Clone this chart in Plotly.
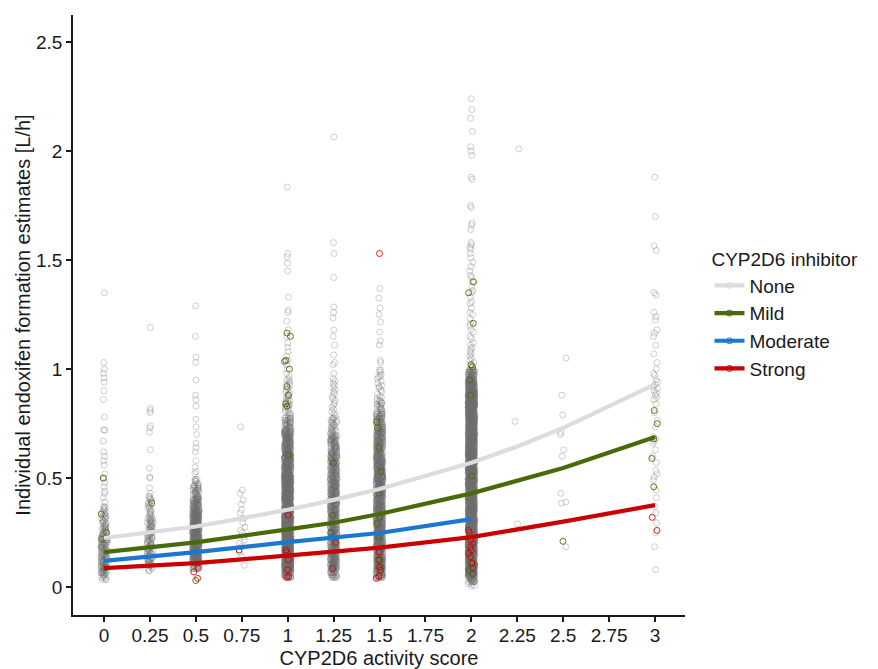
import numpy as np
import plotly.graph_objects as go

# ---------------- data ----------------
x_ticks = [0, 0.25, 0.5, 0.75, 1, 1.25, 1.5, 1.75, 2, 2.25, 2.5, 2.75, 3]
x_tick_labels = ["0", "0.25", "0.5", "0.75", "1", "1.25", "1.5", "1.75", "2", "2.25", "2.5", "2.75", "3"]
y_ticks = [0, 0.5, 1, 1.5, 2, 2.5]
y_tick_labels = ["0", "0.5", "1", "1.5", "2", "2.5"]

# fitted curves per inhibitor group
none_x = [0, 0.25, 0.5, 0.75, 1, 1.25, 1.5, 2, 2.25, 2.5, 3]
none_fit = [0.225, 0.25, 0.278, 0.315, 0.355, 0.40, 0.45, 0.57, 0.645, 0.73, 0.93]
mild_x = [0, 0.25, 0.5, 1, 1.25, 1.5, 2, 2.5, 3]
mild_fit = [0.16, 0.182, 0.205, 0.265, 0.295, 0.335, 0.43, 0.546, 0.688]
moderate_x = [0, 0.5, 1, 1.25, 1.5, 2]
moderate_fit = [0.12, 0.16, 0.206, 0.225, 0.248, 0.312]
strong_x = [0, 0.5, 0.75, 1, 1.25, 1.5, 2, 2.5, 3]
strong_fit = [0.087, 0.11, 0.127, 0.147, 0.163, 0.181, 0.229, 0.30, 0.376]

# individual estimates, no inhibitor: sparse (explicit) values per activity score
none_sparse_0 = [1.35, 1.03, 1.0, 0.98, 0.96, 0.94, 0.90, 0.86, 0.78, 0.72, 0.72, 0.67, 0.62, 0.60,
                 0.58, 0.56, 0.52, 0.50, 0.48, 0.46, 0.44, 0.43, 0.41, 0.39, 0.37]
none_sparse_025 = [1.19, 0.82, 0.81, 0.80, 0.74, 0.73, 0.71, 0.63, 0.545, 0.505, 0.50, 0.455, 0.43]
none_sparse_05 = [1.29, 1.15, 1.055, 1.03, 0.95, 0.88, 0.86, 0.83, 0.77, 0.735, 0.70, 0.66, 0.64,
                  0.62, 0.58, 0.55, 0.53, 0.52, 0.49]
none_sparse_075 = [0.735, 0.445, 0.43, 0.40, 0.38, 0.355, 0.34, 0.315, 0.295, 0.275, 0.26, 0.25,
                   0.23, 0.215, 0.20, 0.185, 0.16, 0.14, 0.10]
none_sparse_1 = [1.835, 1.53, 1.515, 1.485, 1.45, 1.33, 1.27, 1.26, 1.22, 1.18, 1.15, 1.12, 1.10,
                 1.08, 1.06, 1.04, 1.02, 1.0, 0.98, 0.965, 0.95, 0.93, 0.91, 0.89, 0.87, 0.85, 0.83]
none_sparse_125 = [2.065, 1.58, 1.53, 1.42, 1.285, 1.26, 1.235, 1.18, 1.15, 1.11, 1.065, 1.03,
                   1.02, 0.98]
none_sparse_15 = [1.37, 1.325, 1.28, 1.25, 1.215, 1.17, 1.13, 1.11, 1.04, 1.03, 0.995, 0.965,
                  0.92, 0.87, 0.84]
none_sparse_2 = [2.24, 2.19, 2.15, 2.09, 2.02, 2.0, 1.98, 1.88, 1.87, 1.75, 1.74, 1.67, 1.66, 1.64,
                 1.58, 1.57, 1.56, 1.55, 1.53, 1.51, 1.49, 1.47, 1.45, 1.43, 1.42, 1.40, 1.38, 1.36,
                 1.35, 1.33, 1.31, 1.30, 1.28, 1.26, 1.25, 1.23, 1.21, 1.20, 1.18, 1.17, 1.15, 1.14,
                 1.12, 1.11, 1.10, 1.09, 1.08, 1.07, 1.06, 1.05, 1.04, 1.03, 1.02, 1.01]
none_sparse_225 = [2.01, 0.76, 0.29]
none_sparse_25 = [1.05, 0.88, 0.79, 0.71, 0.70, 0.63, 0.60, 0.43, 0.39, 0.385, 0.185]
none_sparse_3 = [1.88, 1.70, 1.565, 1.545, 1.35, 1.34, 1.26, 1.24, 1.225, 1.18, 1.165, 1.15, 1.11,
                 1.07, 1.03, 1.0, 0.98, 0.97, 0.95, 0.94, 0.93, 0.92, 0.91, 0.90, 0.89, 0.88, 0.87,
                 0.86, 0.84, 0.80, 0.765, 0.735, 0.69, 0.68, 0.67, 0.66, 0.63, 0.60, 0.57, 0.535,
                 0.52, 0.505, 0.49, 0.445, 0.41, 0.37, 0.34, 0.295, 0.25, 0.185, 0.08]

# dense parts: number of estimates per 0.01-wide bin (0.00-0.01, 0.01-0.02, ... 0.99-1.00)
dense_bin_centers = np.round(np.arange(0.005, 1.0, 0.01), 4)
none_counts_0 = [0] * 3 + [3] * 3 + [6] * 17 + [4] * 5 + [3] * 5 + [2] * 4 + [0] * 63
none_counts_025 = [0] * 7 + [2] * 3 + [4] * 22 + [2] * 10 + [0] * 58
none_counts_05 = [0] * 8 + [6] * 3 + [16] * 24 + [10] * 6 + [5] * 6 + [2] * 3 + [0] * 50
none_counts_1 = [0] * 4 + [10] * 3 + [22] * 45 + [18] * 10 + [13] * 10 + [6] * 6 + [2] * 8 + [1] * 10 + [0] * 4
none_counts_125 = [0] * 4 + [6] * 4 + [11] * 42 + [9] * 12 + [7] * 8 + [3] * 8 + [1] * 18 + [0] * 4
none_counts_15 = [0] * 4 + [10] * 4 + [14] * 52 + [11] * 12 + [7] * 8 + [3] * 6 + [1] * 14
none_counts_2 = [2] * 2 + [8] * 3 + [22] * 85 + [17] * 5 + [10] * 5

# mild inhibitor estimates
mild_pts = {
    0: [0.50, 0.335, 0.25, 0.22, 0.09],
    0.25: [0.385],
    0.5: [0.03],
    1: [1.165, 1.15, 1.04, 1.035, 1.0, 0.92, 0.88, 0.84, 0.83, 0.605],
    1.25: [0.57, 0.33, 0.25],
    1.5: [0.757, 0.73, 0.64, 0.53, 0.43, 0.32, 0.29, 0.23, 0.125, 0.09],
    2: [1.40, 1.35, 1.21, 1.02, 1.01, 0.95, 0.88, 0.51, 0.11, 0.08, 0.06],
    2.5: [0.21],
    3: [0.81, 0.75, 0.68, 0.59, 0.46],
}
# strong inhibitor estimates
strong_pts = {
    0.5: [0.087, 0.07, 0.04],
    0.75: [0.17],
    1: [0.33, 0.17, 0.16, 0.125, 0.08, 0.05, 0.045],
    1.25: [0.205, 0.085],
    1.5: [1.53, 0.16, 0.125, 0.093, 0.078, 0.05, 0.04],
    2: [0.26, 0.25, 0.215, 0.20, 0.185, 0.17, 0.155, 0.14, 0.11, 0.087],
    3: [0.32, 0.26],
}

# ---------------- build ----------------
none_columns = [
    (0, none_sparse_0, none_counts_0),
    (0.25, none_sparse_025, none_counts_025),
    (0.5, none_sparse_05, none_counts_05),
    (0.75, none_sparse_075, None),
    (1, none_sparse_1, none_counts_1),
    (1.25, none_sparse_125, none_counts_125),
    (1.5, none_sparse_15, none_counts_15),
    (2, none_sparse_2, none_counts_2),
    (2.25, none_sparse_225, None),
    (2.5, none_sparse_25, None),
    (3, none_sparse_3, None),
]
none_xs, none_ys = [], []
for score, sparse, counts in none_columns:
    vals = list(sparse)
    if counts is not None:
        for c, n in zip(dense_bin_centers, counts):
            vals.extend([float(c)] * n)
    none_xs.extend([score] * len(vals))
    none_ys.extend(vals)


def flatten(d):
    xs, ys = [], []
    for k, v in d.items():
        xs.extend([k] * len(v))
        ys.extend(v)
    return xs, ys


mild_xs, mild_ys = flatten(mild_pts)
strong_xs, strong_ys = flatten(strong_pts)

C_NONE = "#dcdcdc"
C_MILD = "#4a6a0a"
C_MOD = "#1a78d0"
C_STRONG = "#cc0000"
BOX_W = 0.036

fig = go.Figure()


def jitter_box(xs, ys, color):
    return go.Box(
        x=xs, y=ys, boxpoints="all", jitter=1, pointpos=0, width=BOX_W,
        fillcolor="rgba(0,0,0,0)", line=dict(width=0, color="rgba(0,0,0,0)"),
        whiskerwidth=0, showlegend=False, hoverinfo="skip",
        marker=dict(symbol="circle-open", size=6, color=color, line=dict(width=1, color=color)),
    )


fig.add_trace(jitter_box(none_xs, none_ys, "rgba(108,108,108,0.33)"))
fig.add_trace(jitter_box(mild_xs, mild_ys, "rgba(74,106,10,0.9)"))
fig.add_trace(jitter_box(strong_xs, strong_ys, "rgba(204,0,0,0.85)"))

for xs, ys, col in [(none_x, none_fit, C_NONE), (mild_x, mild_fit, C_MILD),
                    (moderate_x, moderate_fit, C_MOD), (strong_x, strong_fit, C_STRONG)]:
    fig.add_trace(go.Scatter(x=xs, y=ys, mode="lines", line=dict(color=col, width=4.2),
                             showlegend=False, hoverinfo="skip"))

for name, col in [("None", C_NONE), ("Mild", C_MILD), ("Moderate", C_MOD), ("Strong", C_STRONG)]:
    fig.add_trace(go.Scatter(x=[None], y=[None], mode="lines+markers", name=name,
                             line=dict(color=col, width=4.2),
                             marker=dict(symbol="circle-open", size=6, color=col)))

axis_col = "#1a1a1a"
# page body adds an 8 px offset, so the figure is 8 px smaller and margins shifted
fig.update_layout(
    width=870, height=661,
    margin=dict(l=65, r=193, t=7, b=54),
    paper_bgcolor="white", plot_bgcolor="white",
    font=dict(family="Liberation Sans, Arial, sans-serif", size=19, color=axis_col),
    boxmode="overlay",
    legend=dict(
        title=dict(text="CYP2D6 inhibitor", font=dict(size=19)),
        x=1.04, xanchor="left", y=0.622, yanchor="top",
        font=dict(size=19), itemwidth=30, bgcolor="rgba(0,0,0,0)",
    ),
)
fig.update_xaxes(
    range=[-0.169, 3.163], tickmode="array", tickvals=x_ticks, ticktext=x_tick_labels,
    showline=True, linecolor=axis_col, linewidth=1.5, ticks="outside", ticklen=5,
    tickwidth=1.5, tickcolor=axis_col, showgrid=False, zeroline=False, automargin=False,
    ticklabelstandoff=-3,
    title=dict(text="CYP2D6 activity score", font=dict(size=20), standoff=6),
)
fig.update_yaxes(
    range=[-0.128, 2.624], tickmode="array", tickvals=y_ticks, ticktext=y_tick_labels,
    showline=True, linecolor=axis_col, linewidth=1.5, ticks="outside", ticklen=5,
    tickwidth=1.5, tickcolor=axis_col, showgrid=False, zeroline=False, automargin=False,
    title=dict(text="Individual endoxifen formation estimates [L/h]", font=dict(size=20), standoff=0),
)

fig.write_html("out.html")
